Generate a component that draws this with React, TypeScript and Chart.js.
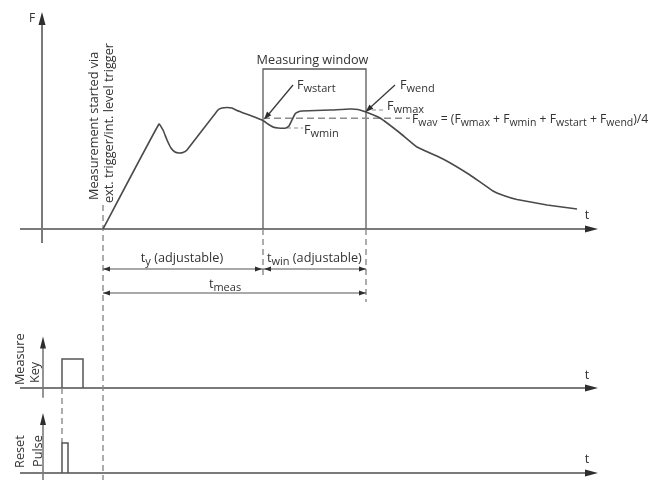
import React, { useEffect, useRef } from "react";
import { Chart, registerables } from "chart.js";

Chart.register(...registerables);

// Force curve: time after trigger (arbitrary units) and force (arbitrary units)
const forceTime = [0, 5.6, 6.0, 6.4, 6.8, 7.2, 7.6, 8.0, 8.4, 11.5, 11.9, 12.4, 12.9, 13.4, 16.0, 16.5, 17.0, 17.5, 18.3, 18.6, 18.9, 19.2, 19.5, 19.9, 22.7, 24.7, 25.5, 26.3, 27.7, 29.7, 31.4, 34.0, 36.7, 39.0, 40.2, 41.4, 44.4, 47.4];
const forceValue = [0, 10.5, 9.9, 8.9, 8.1, 7.7, 7.6, 7.65, 7.9, 11.9, 12.1, 12.15, 12.1, 11.85, 10.85, 10.5, 10.2, 10.1, 10.1, 10.3, 10.9, 11.5, 11.7, 11.8, 11.9, 12.0, 11.95, 11.7, 11.1, 9.6, 8.2, 7.0, 5.4, 3.8, 3.3, 2.95, 2.4, 2.0];

// Measure key signal (0 = released, 1 = pressed)
const keyTime = [-4.1, -4.1, -2.0, -2.0];
const keyLevel = [0, 1, 1, 0];

// Reset pulse signal
const resetTime = [-4.1, -4.1, -3.5, -3.5];
const resetLevel = [0, 1, 1, 0];

// Characteristic times: trigger, window start, window end
const markTimes = [0, 16.0, 26.3];
// Window characteristic forces: Fwstart, Fwmin, Fwmax, Fwend, Fwav
const windowForces = [10.85, 10.1, 11.9, 11.7, 11.07];
const windowTop = 16.0;

const FONT = '"Open Sans", "DejaVu Sans", sans-serif';
const TEXT = "#333";
const MAIN = 12.7;
const SUB = 11;

type Part = [string, boolean];

function seg(ctx: CanvasRenderingContext2D, x1: number, y1: number, x2: number, y2: number, color: string, width: number, dash: number[] = []) {
  ctx.save();
  ctx.strokeStyle = color;
  ctx.lineWidth = width;
  ctx.setLineDash(dash);
  ctx.beginPath();
  ctx.moveTo(x1, y1);
  ctx.lineTo(x2, y2);
  ctx.stroke();
  ctx.restore();
}

function head(ctx: CanvasRenderingContext2D, tx: number, ty: number, fx: number, fy: number, len: number, half: number, color: string) {
  const a = Math.atan2(ty - fy, tx - fx);
  const bx = tx - Math.cos(a) * len;
  const by = ty - Math.sin(a) * len;
  ctx.save();
  ctx.fillStyle = color;
  ctx.beginPath();
  ctx.moveTo(tx, ty);
  ctx.lineTo(bx + Math.sin(a) * half, by - Math.cos(a) * half);
  ctx.lineTo(bx - Math.sin(a) * half, by + Math.cos(a) * half);
  ctx.closePath();
  ctx.fill();
  ctx.restore();
}

function rich(ctx: CanvasRenderingContext2D, parts: Part[], x: number, y: number, align: "left" | "center", size = MAIN, sub = SUB) {
  ctx.save();
  ctx.fillStyle = TEXT;
  ctx.textBaseline = "alphabetic";
  ctx.textAlign = "left";
  let total = 0;
  const widths = parts.map(([s, isSub]) => {
    ctx.font = `${isSub ? sub : size}px ${FONT}`;
    const w = ctx.measureText(s).width;
    total += w;
    return w;
  });
  let cx = align === "center" ? x - total / 2 : x;
  parts.forEach(([s, isSub], i) => {
    ctx.font = `${isSub ? sub : size}px ${FONT}`;
    ctx.fillText(s, cx, isSub ? y + 3 : y);
    cx += widths[i];
  });
  ctx.restore();
}

function vtext(ctx: CanvasRenderingContext2D, s: string, x: number, y: number, size = MAIN) {
  ctx.save();
  ctx.translate(x, y);
  ctx.rotate(-Math.PI / 2);
  ctx.fillStyle = TEXT;
  ctx.font = `${size}px ${FONT}`;
  ctx.textAlign = "left";
  ctx.textBaseline = "alphabetic";
  ctx.fillText(s, 0, 0);
  ctx.restore();
}

const diagramPlugin = {
  id: "diagram",
  beforeDatasetsDraw(chart: any) {
    const ctx: CanvasRenderingContext2D = chart.ctx;
    const X = (v: number) => chart.scales.x.getPixelForValue(v);
    const Y = (v: number) => chart.scales.y.getPixelForValue(v);
    const K = (v: number) => chart.scales.yKey.getPixelForValue(v);
    const R = (v: number) => chart.scales.yReset.getPixelForValue(v);
    const axisC = "#7a7a7a";
    const headC = "#2e2e2e";
    const dashC = "#8a8a8a";
    const [tTrig, tWs, tWe] = markTimes;

    // main axes
    seg(ctx, X(-8.3), Y(0), X(48.6), Y(0), axisC, 2);
    head(ctx, X(49.5), Y(0), X(-8.3), Y(0), 13, 3.5, headC);
    seg(ctx, X(-6.1), Y(-1.4), X(-6.1), Y(20.5), axisC, 2);
    head(ctx, X(-6.1), Y(21.7), X(-6.1), Y(0), 13, 3.5, headC);

    // key axes
    seg(ctx, X(-8.3), K(0), X(48.6), K(0), axisC, 2);
    head(ctx, X(49.5), K(0), X(-8.3), K(0), 13, 3.5, headC);
    seg(ctx, X(-6.0), K(-0.34), X(-6.0), K(1.4), axisC, 1.6);
    head(ctx, X(-6.0), K(1.78), X(-6.0), K(0), 12, 3, headC);

    // reset axes
    seg(ctx, X(-8.3), R(0), X(48.6), R(0), axisC, 2);
    head(ctx, X(49.5), R(0), X(-8.3), R(0), 13, 3.5, headC);
    seg(ctx, X(-6.0), R(-0.3), X(-6.0), R(1.65), axisC, 1.6);
    head(ctx, X(-6.0), R(2.0), X(-6.0), R(0), 12, 3, headC);

    // dashed verticals
    const d = [6, 4];
    seg(ctx, X(tTrig), Y(2.4), X(tTrig), Y(-25.1), dashC, 1.4, d);
    seg(ctx, X(tWs), Y(0), X(tWs), Y(-4.6), dashC, 1.4, d);
    seg(ctx, X(tWe), Y(0), X(tWe), Y(-7.3), dashC, 1.4, d);
    seg(ctx, X(keyTime[0]), K(0), X(keyTime[0]), R(1), dashC, 1.4, d);

    // measuring window box
    ctx.save();
    ctx.strokeStyle = "#5a5a5a";
    ctx.lineWidth = 1.3;
    ctx.beginPath();
    ctx.moveTo(X(tWs), Y(0));
    ctx.lineTo(X(tWs), Y(windowTop));
    ctx.lineTo(X(tWe), Y(windowTop));
    ctx.lineTo(X(tWe), Y(0));
    ctx.stroke();
    ctx.restore();

    // Fwav / Fwmin / Fwmax leaders
    const [, fMin, fMax, , fAv] = windowForces;
    seg(ctx, X(tWs), Y(fAv), X(30.7), Y(fAv), "#8c8c8c", 1.6, [7, 4]);
    seg(ctx, X(18.4), Y(fMin), X(20.0), Y(fMin), "#b4b4b4", 1.4, [4, 3]);
    seg(ctx, X(26.9), Y(fMax), X(28.3), Y(fMax), "#b4b4b4", 1.4, [4, 3]);

    // dimension lines
    const dimC = "#555";
    const yDim1 = Y(-4.0);
    const yDim2 = Y(-6.4);
    seg(ctx, X(tTrig), yDim1, X(tWs), yDim1, dimC, 1.2);
    head(ctx, X(tTrig), yDim1, X(tWs), yDim1, 7, 2.5, headC);
    head(ctx, X(tWs) - 1, yDim1, X(tTrig), yDim1, 7, 2.5, headC);
    seg(ctx, X(tWs), yDim1, X(tWe), yDim1, dimC, 1.2);
    head(ctx, X(tWs) + 1, yDim1, X(tWe), yDim1, 7, 2.5, headC);
    head(ctx, X(tWe), yDim1, X(tWs), yDim1, 7, 2.5, headC);
    seg(ctx, X(tTrig), yDim2, X(tWe), yDim2, dimC, 1.2);
    head(ctx, X(tTrig), yDim2, X(tWe), yDim2, 7, 2.5, headC);
    head(ctx, X(tWe), yDim2, X(tTrig), yDim2, 7, 2.5, headC);
  },
  afterDatasetsDraw(chart: any) {
    const ctx: CanvasRenderingContext2D = chart.ctx;
    const X = (v: number) => chart.scales.x.getPixelForValue(v);
    const Y = (v: number) => chart.scales.y.getPixelForValue(v);
    const K = (v: number) => chart.scales.yKey.getPixelForValue(v);
    const R = (v: number) => chart.scales.yReset.getPixelForValue(v);
    const headC = "#2e2e2e";
    const [, tWs, tWe] = markTimes;

    // pointer arrows
    seg(ctx, X(19.0), Y(14.4), X(tWs + 0.25), Y(11.1), "#3a3a3a", 1.3);
    head(ctx, X(tWs + 0.1), Y(10.95), X(19.0), Y(14.4), 8, 2.8, headC);
    seg(ctx, X(29.2), Y(14.4), X(tWe + 0.1), Y(11.85), "#3a3a3a", 1.3);
    head(ctx, X(tWe - 0.05), Y(11.7), X(29.2), Y(14.4), 8, 2.8, headC);

    // labels
    rich(ctx, [["F", false]], X(-7.1), Y(20.7), "center", 12);
    rich(ctx, [["t", false]], X(48.4), Y(1.0), "center");
    rich(ctx, [["t", false]], X(48.4), K(0.31), "center");
    rich(ctx, [["t", false]], X(48.4), R(0.33), "center");
    rich(ctx, [["Measuring window", false]], X((tWs + tWe) / 2 - 0.2), Y(16.5), "center");
    rich(ctx, [["F", false], ["wstart", true]], X(19.4), Y(14.0), "left");
    rich(ctx, [["F", false], ["wmin", true]], X(20.1), Y(9.5), "left");
    rich(ctx, [["F", false], ["wend", true]], X(29.7), Y(14.0), "left");
    rich(ctx, [["F", false], ["wmax", true]], X(28.4), Y(11.9), "left");
    rich(ctx, [["F", false], ["wav", true], [" = (", false], ["F", false], ["wmax", true], [" + ", false], ["F", false], ["wmin", true], [" + ", false], ["F", false], ["wstart", true], [" + ", false], ["F", false], ["wend", true], [")/4", false]], X(30.9), Y(10.6), "left", 12.2, 10.5);
    rich(ctx, [["t", false], ["y", true], [" (adjustable)", false]], X(7.9), Y(-3.3), "center");
    rich(ctx, [["t", false], ["win", true], [" (adjustable)", false]], X(16.4), Y(-3.3), "left");
    rich(ctx, [["t", false], ["meas", true]], X(12.2), Y(-5.9), "center");

    vtext(ctx, "Measurement started via", X(-0.55), Y(2.9));
    vtext(ctx, "ext. trigger/int. level trigger", X(1.0), Y(2.6));
    vtext(ctx, "Measure", X(-7.9), K(0.1));
    vtext(ctx, "Key", X(-6.4), K(0.17));
    vtext(ctx, "Reset", X(-7.9), R(0.17));
    vtext(ctx, "Pulse", X(-6.15), R(0.2));
  },
};

export default function App() {
  const ref = useRef<HTMLCanvasElement | null>(null);
  useEffect(() => {
    document.body.style.margin = "0";
    document.body.style.background = "#fff";
    if (!ref.current) return;
    const chart = new Chart(ref.current, {
      type: "line",
      data: {
        datasets: [
          {
            data: forceTime.map((t, i) => ({ x: t, y: forceValue[i] })),
            borderColor: "#4a4a4a",
            borderWidth: 1.6,
            pointRadius: 0,
            tension: 0.1,
            yAxisID: "y",
          },
          {
            data: keyTime.map((t, i) => ({ x: t, y: keyLevel[i] })),
            borderColor: "#555",
            borderWidth: 1.5,
            pointRadius: 0,
            tension: 0,
            yAxisID: "yKey",
          },
          {
            data: resetTime.map((t, i) => ({ x: t, y: resetLevel[i] })),
            borderColor: "#555",
            borderWidth: 1.5,
            pointRadius: 0,
            tension: 0,
            yAxisID: "yReset",
          },
        ],
      },
      options: {
        animation: false,
        responsive: false,
        maintainAspectRatio: false,
        layout: { padding: 0 },
        plugins: { legend: { display: false }, tooltip: { enabled: false } },
        events: [],
        scales: {
          x: { type: "linear", display: false, min: -10.3, max: 55.9 },
          y: { type: "linear", display: false, min: -25.1, max: 22.9 },
          yKey: { type: "linear", display: false, min: -3.172, max: 13.379 },
          yReset: { type: "linear", display: false, min: -0.2333, max: 15.767 },
        },
      },
      plugins: [diagramPlugin],
    });
    return () => chart.destroy();
  }, []);
  return (
    <div style={{ width: 662, height: 480, background: "#fff" }}>
      <canvas ref={ref} width={662} height={480} style={{ display: "block" }} />
    </div>
  );
}
